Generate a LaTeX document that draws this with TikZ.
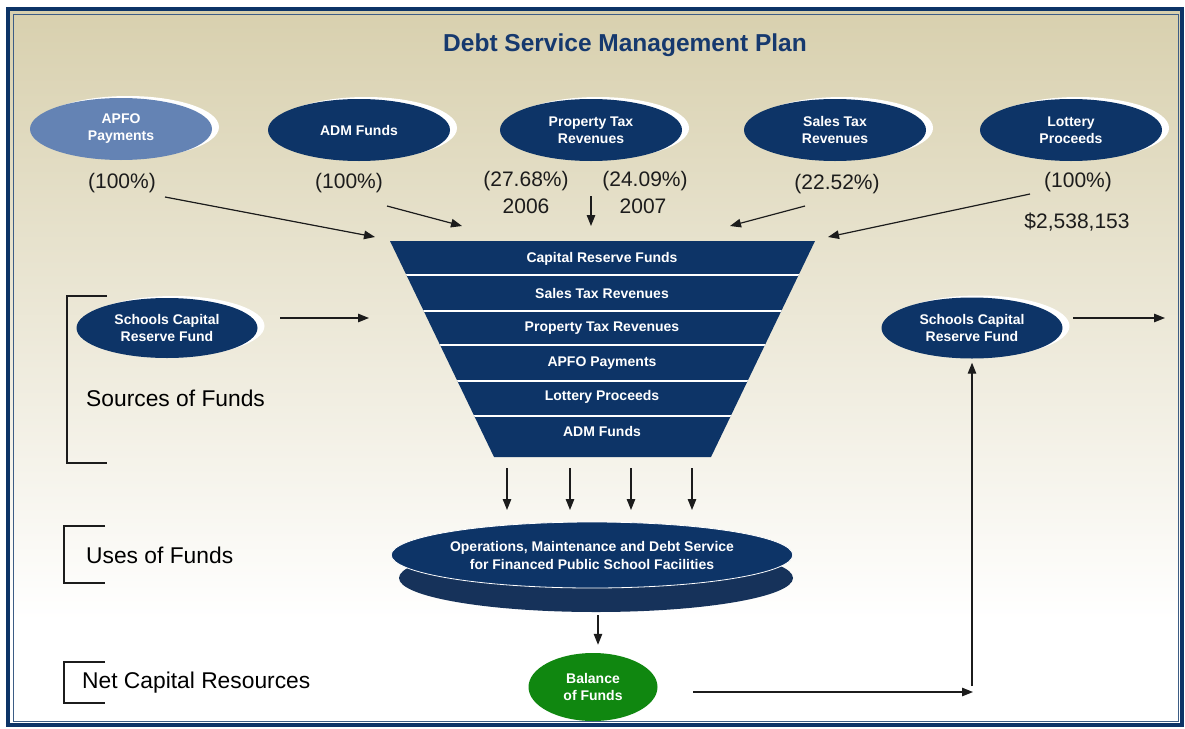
\documentclass[tikz,border=0pt]{standalone}
\usepackage{fontspec}
\setmainfont{Liberation Sans}
\usetikzlibrary{shapes.geometric,arrows.meta,shadows}

\definecolor{navy}{HTML}{0D3467}
\definecolor{paleblue}{HTML}{6483B4}
\definecolor{basenavy}{HTML}{16325A}
\definecolor{fundgreen}{HTML}{108710}
\definecolor{titleblue}{HTML}{16396E}
\definecolor{tan}{HTML}{D8D0AE}
\definecolor{ink}{HTML}{1C1C1C}

\begin{document}
\begin{tikzpicture}[x=1pt,y=-1pt,
  oval/.style={ellipse, draw=none, fill=navy, text=white, align=center,
    inner sep=0pt, minimum width=182pt, minimum height=62pt,
    font=\bfseries\fontsize{14}{17}\selectfont,
    general shadow={fill=white, shadow xshift=7pt, shadow yshift=2pt}},
  pct/.style={font=\fontsize{21}{24}\selectfont, text=ink, inner sep=0pt},
  bandtext/.style={font=\bfseries\fontsize{14}{16}\selectfont, text=white, inner sep=0pt},
  heading/.style={font=\fontsize{22.8}{26}\selectfont, text=black, anchor=west, inner sep=0pt},
  flow/.style={draw=ink, line width=1.2pt, -{Triangle[length=11pt,width=8.5pt]}},
  bracket/.style={draw=ink, line width=1.1pt}
]
\useasboundingbox (0,0) rectangle (1185,728);
\fill[white] (0,0) rectangle (1185,728);

% background wash and frame
\shade[top color=tan, bottom color=white] (8,9) rectangle (1182,620);
\fill[white] (8,620) rectangle (1182,725);
\draw[navy, line width=3.5pt] (8,9) rectangle (1182,725);
\draw[navy!80, line width=0.8pt] (13,14) rectangle (1178,721);

% title
\node[font=\bfseries\fontsize{24.5}{28}\selectfont, text=titleblue] (title) at (625,45) {Debt Service Management Plan};

% revenue sources
\node[oval, fill=paleblue] (apfo) at (121,129) {APFO\\Payments};
\node[oval] (adm) at (359,130) {ADM Funds};
\node[oval] (prop) at (591,130) {Property Tax\\Revenues};
\node[oval] (sales) at (835,130) {Sales Tax\\Revenues};
\node[oval] (lott) at (1071,130) {Lottery\\Proceeds};

\node[pct] (p1) at (122,183) {(100\%)};
\node[pct] (p2) at (349,183) {(100\%)};
\node[pct] (p3) at (526,181) {(27.68\%)};
\node[pct] (p3y) at (526,206) {2006};
\node[pct] (p4) at (645,181) {(24.09\%)};
\node[pct] (p4y) at (643,206) {2007};
\node[pct] (p5) at (837,184) {(22.52\%)};
\node[pct] (p6) at (1078,182) {(100\%)};
\node[pct] (p7) at (1077,222) {\$2,538,153};

% funnel
\coordinate (fTL) at (390,241);
\coordinate (fTR) at (815,241);
\coordinate (fBR) at (711,457);
\coordinate (fBL) at (494,457);
\fill[navy] (fTL) -- (fTR) -- (fBR) -- (fBL) -- cycle;
\begin{scope}
  \clip (fTL) -- (fTR) -- (fBR) -- (fBL) -- cycle;
  \foreach \yy in {275,311,345,381,416}
    \draw[white, line width=1.2pt] (380,\yy) -- (830,\yy);
\end{scope}
\node[bandtext] (b1) at (602,259) {Capital Reserve Funds};
\node[bandtext] (b2) at (602,293) {Sales Tax Revenues};
\node[bandtext] (b3) at (602,328) {Property Tax Revenues};
\node[bandtext] (b4) at (602,363) {APFO Payments};
\node[bandtext] (b5) at (602,397) {Lottery Proceeds};
\node[bandtext] (b6) at (602,431) {ADM Funds};

% arrows into the funnel
\coordinate (a1s) at (165,197); \coordinate (a1e) at (375,237);
\coordinate (a2s) at (387,206); \coordinate (a2e) at (462,226);
\coordinate (a3s) at (591,196); \coordinate (a3e) at (591,226);
\coordinate (a4s) at (805,206); \coordinate (a4e) at (730,226);
\coordinate (a5s) at (1030,194); \coordinate (a5e) at (828,237);
\draw[flow] (a1s) -- (a1e);
\draw[flow] (a2s) -- (a2e);
\draw[flow] (a3s) -- (a3e);
\draw[flow] (a4s) -- (a4e);
\draw[flow] (a5s) -- (a5e);

% capital reserve fund on both sides
\node[oval, minimum width=181pt, minimum height=60pt] (lres) at (167,328) {Schools Capital\\Reserve Fund};
\node[oval, minimum width=181pt, minimum height=61pt] (rres) at (972,328) {Schools Capital\\Reserve Fund};
\coordinate (lrA) at (280,318); \coordinate (lrB) at (369,318);
\draw[flow] (lrA) -- (lrB);
\coordinate (rrA) at (1073,318); \coordinate (rrB) at (1165,318);
\draw[flow] (rrA) -- (rrB);

% uses of funds
\node[ellipse, fill=basenavy, minimum width=394pt, minimum height=68pt, inner sep=0pt] (opsbase) at (596,578) {};
\node[ellipse, fill=navy, draw=white, line width=0.8pt, minimum width=392pt, minimum height=66pt,
  inner sep=0pt, text=white, align=center, font=\bfseries\fontsize{14}{18}\selectfont] (ops) at (592,555)
  {Operations, Maintenance and Debt Service\\for Financed Public School Facilities};
\foreach \xx in {507,570,631,692} {
  \coordinate (d\xx s) at (\xx,468);
  \coordinate (d\xx e) at (\xx,510);
  \draw[flow] (d\xx s) -- (d\xx e);
}

% balance of funds
\node[ellipse, fill=fundgreen, minimum width=129pt, minimum height=68pt, inner sep=0pt,
  text=white, align=center, font=\bfseries\fontsize{14}{17}\selectfont] (bal) at (593,687) {Balance\\of Funds};
\draw[flow, shorten <=3pt, shorten >=8pt] ([xshift=2pt]opsbase.south) -- ([xshift=2pt]opsbase.south |- bal.north);
\coordinate (balA) at (693,692); \coordinate (balB) at (973,692);
\draw[flow] (balA) -- (balB);
\coordinate (upA) at (972,686);
\draw[flow, shorten >=4pt] (upA) -- (rres.south);

% section brackets
\draw[bracket] (107,296) -- (67,296) -- (67,463) -- (107,463);
\node[heading] (src) at (86,398) {Sources of Funds};
\draw[bracket] (105,526) -- (64,526) -- (64,583) -- (105,583);
\node[heading] (uses) at (86,555) {Uses of Funds};
\draw[bracket] (105,662) -- (64,662) -- (64,703) -- (105,703);
\node[heading] (net) at (82,683) {Net Capital Resources};
\end{tikzpicture}
\end{document}
